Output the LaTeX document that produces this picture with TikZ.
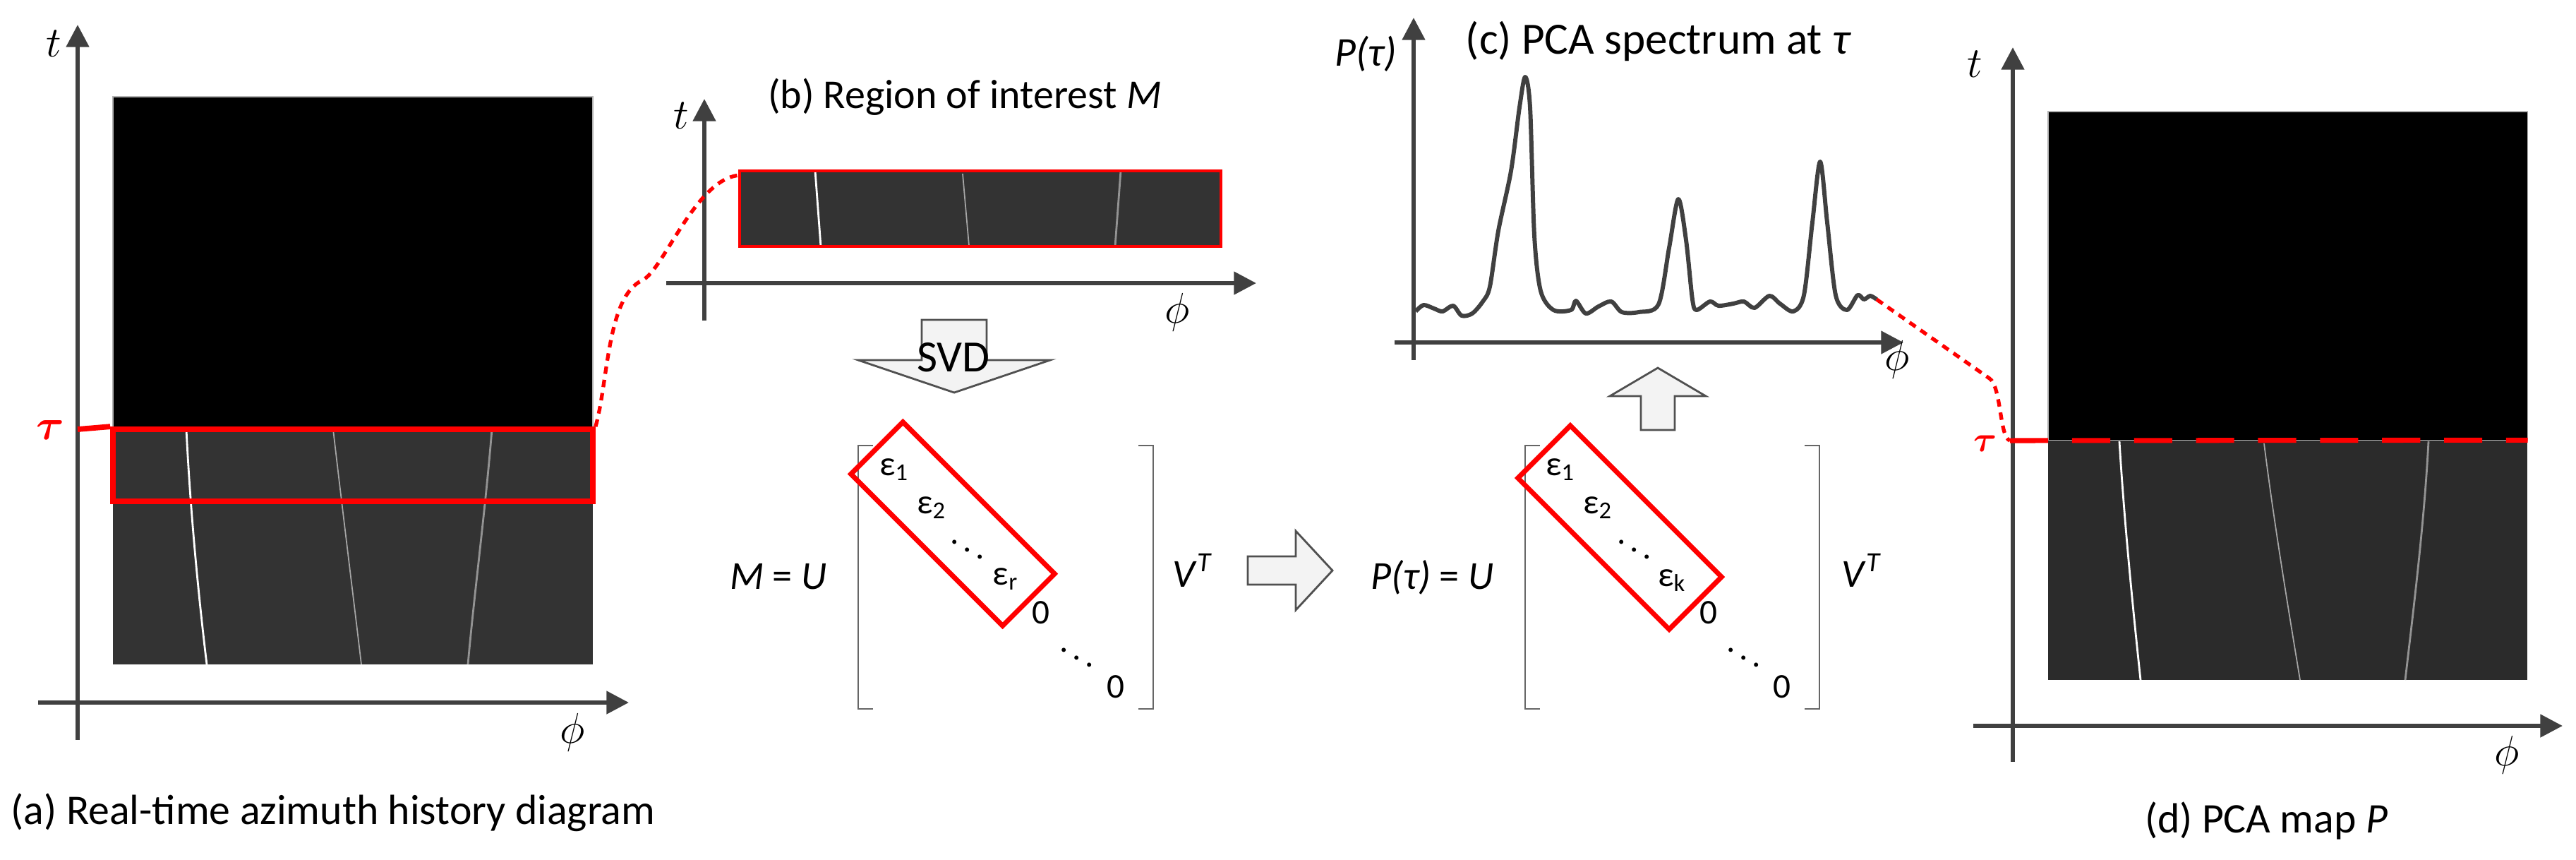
\documentclass[tikz,border=0pt]{standalone}
\usepackage{fontspec}
\setmainfont{Carlito}
\usepackage{amsmath}
\usepackage{tikz}
\usetikzlibrary{arrows.meta, positioning}
\usepackage{xcolor}
\definecolor{axisgray}{HTML}{404040}
\definecolor{noisegray}{HTML}{333333}
\definecolor{mapgray}{HTML}{2B2B2B}
\definecolor{bracketgray}{HTML}{666666}
\definecolor{arrowgray}{HTML}{505050}
\definecolor{arrowfill}{HTML}{F3F3F3}
\tikzset{
	axisline/.style={draw=axisgray, line width=1.7pt, -{Triangle[length=9pt, width=9pt]}},
	axislabel/.style={font=\fontsize{18}{20}\selectfont, inner sep=0pt},
	taulabel/.style={text=red, font=\fontsize{18}{20}\selectfont, inner sep=0pt},
	blackimg/.style={fill=black, draw=gray!60, line width=0.3pt, inner sep=0pt},
	noiseimg/.style={fill=noisegray, inner sep=0pt},
	mapimg/.style={fill=mapgray, inner sep=0pt},
	track/.style={draw=white, line width=0.8pt},
	faint/.style={draw=gray!70, line width=0.5pt},
	roi/.style={draw=red, line width=2.2pt, inner sep=0pt},
	roithin/.style={draw=red, line width=1pt, inner sep=0pt},
	roilink/.style={draw=red, line width=1.5pt, dash pattern=on 3pt off 2.4pt},
	taudash/.style={draw=red, line width=2pt, dash pattern=on 15.4pt off 9.6pt},
	bracket/.style={draw=bracketgray, line width=0.6pt},
	diagbox/.style={draw=red, line width=2pt, inner sep=0pt, rotate=-45},
	entry/.style={font=\fontsize{14}{16}\selectfont, inner sep=0pt},
	title/.style={font=\fontsize{16.5}{19}\selectfont},
	caption/.style={font=\fontsize{17}{20}\selectfont},
	blockarrow/.style={draw=arrowgray, fill=arrowfill, line width=0.8pt, line join=miter},
	spectrum/.style={draw=axisgray, line width=1.7pt, line join=round}
}

\begin{document}
\begin{tikzpicture}[font=\fontsize{16}{19}\selectfont]
	\useasboundingbox (0,0) rectangle (36.5,-12.17);

	\node[blackimg, minimum width=6.8cm, minimum height=4.71cm] (histtop) at (5.00,-3.725) {};
	\node[noiseimg, minimum width=6.8cm, minimum height=3.33cm] (histbot) at (5.00,-7.745) {};
	\draw[track] (2.64,-6.08) .. controls (2.70,-7.3) and (2.82,-8.5) .. (2.93,-9.41);
	\draw[faint] (4.72,-6.08) .. controls (4.85,-7.2) and (5.00,-8.4) .. (5.12,-9.41);
	\draw[track, draw=gray!85] (6.97,-6.08) .. controls (6.88,-7.2) and (6.72,-8.4) .. (6.63,-9.41);
	\node[roi, minimum width=6.8cm, minimum height=1.02cm] (roia) at (5.00,-6.59) {};

	\coordinate (atb) at (1.10,-10.48);
	\coordinate (att) at (1.10,-0.35);
	\coordinate (apl) at (0.54,-9.95);
	\coordinate (apr) at (8.91,-9.95);
	\draw[axisline] (atb) -- (att);
	\draw[axisline] (apl) -- (apr);
	\node[axislabel] (at) at (0.76,-0.62) {$t$};
	\node[axislabel] (aphi) at (8.11,-10.37) {$\phi$};
	\node[taulabel] (atau) at (0.71,-6.09) {$\boldsymbol{\tau}$};
	\coordinate (ataxis) at (1.10,-6.08);
	\draw[roi] (ataxis) -- (roia.north west);
	\node[caption] (capa) at (4.72,-11.51) {(a) Real-time azimuth history diagram};

	\node[noiseimg, minimum width=6.82cm, minimum height=1.07cm] (roibimg) at (13.89,-2.955) {};
	\draw[track] (11.55,-2.42) -- (11.63,-3.49);
	\draw[faint] (13.64,-2.46) -- (13.73,-3.48);
	\draw[track, draw=gray!85] (15.88,-2.42) -- (15.80,-3.49);
	\node[roithin, minimum width=6.82cm, minimum height=1.07cm] (roib) at (13.89,-2.955) {};

	\coordinate (btb) at (9.98,-4.54);
	\coordinate (btt) at (9.98,-1.40);
	\coordinate (bpl) at (9.44,-4.01);
	\coordinate (bpr) at (17.80,-4.01);
	\draw[axisline] (btb) -- (btt);
	\draw[axisline] (bpl) -- (bpr);
	\node[axislabel] (bt) at (9.65,-1.64) {$t$};
	\node[axislabel] (bphi) at (16.68,-4.42) {$\phi$};
	\node[title] (titleb) at (13.67,-1.37) {(b) Region of interest \textit{M}};

	\draw[roilink] (roia.north east) .. controls (8.62,-5.40) and (8.60,-4.20) .. (9.10,-3.97) .. controls (9.40,-3.83) and (9.85,-2.55) .. ([yshift=-0.08cm]roib.north west);

	\draw[blockarrow] (13.06,-4.53) -- (13.98,-4.53) -- (13.98,-5.10) -- (14.88,-5.10) -- (13.52,-5.56) -- (12.16,-5.10) -- (13.06,-5.10) -- cycle;
	\node[title, font=\fontsize{18}{20}\selectfont] (svd) at (13.51,-5.06) {SVD};

	\draw[bracket] (12.37,-6.31) -- (12.16,-6.31) -- (12.16,-10.04) -- (12.37,-10.04);
	\draw[bracket] (16.13,-6.31) -- (16.34,-6.31) -- (16.34,-10.04) -- (16.13,-10.04);
	\node[diagbox, minimum width=3.04cm, minimum height=1.04cm] (sigmam) at (13.50,-7.42) {};
	\node[entry] (me1) at (12.67,-6.65) {ε\textsubscript{1}};
	\node[entry] (me2) at (13.20,-7.19) {ε\textsubscript{2}};
	\node[entry] (mdots) at (13.71,-7.68) {$\ddots$};
	\node[entry] (mer) at (14.25,-8.20) {ε\textsubscript{r}};
	\node[entry] (mz1) at (14.75,-8.68) {0};
	\node[entry] (mdots2) at (15.26,-9.21) {$\ddots$};
	\node[entry] (mz2) at (15.81,-9.73) {0};
	\node[anchor=east] (meq) at (11.84,-8.17) {\textit{M} = \textit{U}};
	\node (mvt) at (16.90,-8.08) {\textit{V}\textsuperscript{\textit{T}}};

	\draw[blockarrow] (17.68,-7.88) -- (18.36,-7.88) -- (18.36,-7.52) -- (18.88,-8.08) -- (18.36,-8.64) -- (18.36,-8.28) -- (17.68,-8.28) -- cycle;

	\draw[bracket] (21.82,-6.31) -- (21.61,-6.31) -- (21.61,-10.04) -- (21.82,-10.04);
	\draw[bracket] (25.57,-6.31) -- (25.78,-6.31) -- (25.78,-10.04) -- (25.57,-10.04);
	\node[diagbox, minimum width=3.03cm, minimum height=1.05cm] (sigmap) at (22.95,-7.47) {};
	\node[entry] (pe1) at (22.11,-6.65) {ε\textsubscript{1}};
	\node[entry] (pe2) at (22.64,-7.19) {ε\textsubscript{2}};
	\node[entry] (pdots) at (23.16,-7.68) {$\ddots$};
	\node[entry] (pek) at (23.69,-8.22) {ε\textsubscript{k}};
	\node[entry] (pz1) at (24.21,-8.68) {0};
	\node[entry] (pdots2) at (24.71,-9.21) {$\ddots$};
	\node[entry] (pz2) at (25.25,-9.73) {0};
	\node[anchor=east] (peq) at (21.29,-8.18) {\textit{P(τ)} = \textit{U}};
	\node (pvt) at (26.38,-8.08) {\textit{V}\textsuperscript{\textit{T}}};

	\draw[blockarrow] (23.25,-6.09) -- (23.25,-5.61) -- (22.81,-5.61) -- (23.49,-5.21) -- (24.17,-5.61) -- (23.73,-5.61) -- (23.73,-6.09) -- cycle;

	\coordinate (ctb) at (20.03,-5.10);
	\coordinate (ctt) at (20.03,-0.25);
	\coordinate (cpl) at (19.76,-4.85);
	\coordinate (cpr) at (26.97,-4.85);
	\draw[axisline] (ctb) -- (ctt);
	\draw[axisline] (cpl) -- (cpr);
	\node[title] (cp) at (19.35,-0.76) {\textit{P(τ)}};
	\node[title, font=\fontsize{18}{20}\selectfont] (titlec) at (23.50,-0.58) {(c) PCA spectrum at \textit{τ}};
	\node[axislabel] (cphi) at (26.88,-5.09) {$\phi$};
	\draw[spectrum] plot[smooth, tension=0.5] coordinates {
		(20.06,-4.41) (20.17,-4.32) (20.32,-4.37) (20.44,-4.41) (20.59,-4.33) (20.71,-4.47)
		(20.86,-4.44) (21.01,-4.27) (21.11,-4.06) (21.23,-3.27) (21.41,-2.42) (21.53,-1.52)
		(21.61,-1.09) (21.68,-1.52) (21.74,-3.33) (21.83,-4.12) (22.01,-4.39) (22.26,-4.39)
		(22.33,-4.26) (22.47,-4.44) (22.65,-4.34) (22.83,-4.27) (22.98,-4.42) (23.22,-4.42)
		(23.50,-4.31) (23.65,-3.51) (23.78,-2.82) (23.89,-3.40) (23.98,-4.24) (24.04,-4.39)
		(24.23,-4.27) (24.35,-4.33) (24.56,-4.30) (24.71,-4.27) (24.86,-4.36) (25.07,-4.19)
		(25.22,-4.30) (25.41,-4.41) (25.56,-4.18) (25.68,-3.15) (25.79,-2.29) (25.89,-3.15)
		(26.01,-4.18) (26.17,-4.39) (26.32,-4.18) (26.41,-4.24) (26.50,-4.19) (26.59,-4.24)};
	\coordinate (specend) at (26.59,-4.24);

	\node[blackimg, minimum width=6.79cm, minimum height=4.66cm] (maptop) at (32.415,-3.91) {};
	\node[mapimg, minimum width=6.79cm, minimum height=3.39cm] (mapbot) at (32.415,-7.935) {};
	\draw[track] (30.03,-6.25) .. controls (30.10,-7.4) and (30.22,-8.6) .. (30.33,-9.63);
	\draw[faint] (32.08,-6.28) .. controls (32.22,-7.4) and (32.42,-8.6) .. (32.59,-9.63);
	\draw[track, draw=gray!85] (34.41,-6.25) .. controls (34.35,-7.4) and (34.20,-8.6) .. (34.08,-9.63);

	\coordinate (dtb) at (28.52,-10.79);
	\coordinate (dtt) at (28.52,-0.67);
	\coordinate (dpl) at (27.96,-10.28);
	\coordinate (dpr) at (36.31,-10.28);
	\draw[axisline] (dtb) -- (dtt);
	\draw[axisline] (dpl) -- (dpr);
	\node[axislabel] (dt) at (27.98,-0.91) {$t$};
	\node[axislabel] (dphi) at (35.52,-10.69) {$\phi$};
	\coordinate (dtaxis) at (28.48,-6.24);
	\draw[taudash] (dtaxis) -- (mapbot.north east);
	\node[taulabel, font=\fontsize{15}{17}\selectfont] (dtau) at (28.13,-6.28) {$\boldsymbol{\tau}$};
	\node[caption] (capd) at (32.11,-11.62) {(d) PCA map \textit{P}};

	\draw[roilink] (specend) -- (28.19,-5.36) .. controls (28.36,-5.48) and (28.33,-6.20) .. (dtaxis);
\end{tikzpicture}
\end{document}
